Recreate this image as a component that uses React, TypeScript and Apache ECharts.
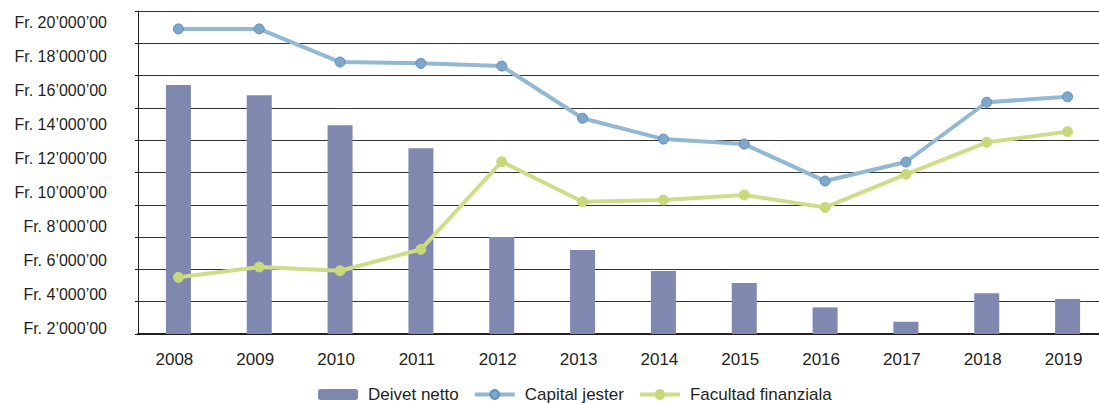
import React, { useEffect, useRef } from "react";
import * as echarts from "echarts";

const years = ["2008", "2009", "2010", "2011", "2012", "2013", "2014", "2015", "2016", "2017", "2018", "2019"];
const deivetNetto = [15420000, 14780000, 12920000, 11500000, 6010000, 5200000, 3900000, 3160000, 1650000, 760000, 2520000, 2170000];
const capitalJester = [18890000, 18890000, 16840000, 16760000, 16590000, 13360000, 12070000, 11760000, 9470000, 10650000, 14350000, 14690000];
const facultadFinanziala = [3510000, 4150000, 3920000, 5240000, 10670000, 8190000, 8300000, 8610000, 7840000, 9890000, 11870000, 12530000];
const yLabelValues = [2000000, 4000000, 6000000, 8000000, 10000000, 12000000, 14000000, 16000000, 18000000, 20000000];

const FONT = "Liberation Sans";
const TXT = "#231f20";

export default function App() {
  const ref = useRef<HTMLDivElement>(null);
  useEffect(() => {
    if (!ref.current) return;
    const chart = echarts.init(ref.current, null, { renderer: "svg" });
    chart.setOption({
      animation: false,
      grid: { left: 138, width: 970, top: 11, bottom: 69, containLabel: false, outerBoundsMode: "none" },
      legend: {
        left: 313,
        top: 381,
        itemWidth: 40,
        itemHeight: 11,
        itemGap: 14,
        lineStyle: { width: 4 },
        textStyle: { fontFamily: FONT, fontSize: 17, color: TXT, padding: [0, 0, 0, 5] },
        data: ["Deivet netto", "Capital jester", "Facultad finanziala"],
      },
      xAxis: {
        type: "category",
        data: years,
        boundaryGap: true,
        axisLine: { show: true, lineStyle: { color: TXT, width: 2 } },
        axisTick: { show: false },
        axisLabel: { fontFamily: FONT, fontSize: 17, color: TXT, margin: 17, padding: [0, 8, 0, 0] },
      },
      yAxis: [
        {
          type: "value",
          min: 0,
          max: 20000000,
          interval: 2000000,
          axisLine: { show: true, lineStyle: { color: TXT, width: 1 } },
          axisTick: { show: true, inside: false, length: 3, lineStyle: { color: TXT } },
          axisLabel: { show: false },
          splitLine: { show: true, lineStyle: { color: "#333333", width: 1 } },
        },
        {
          type: "value",
          position: "left",
          min: 1646000,
          max: 20708000,
          axisLine: { show: false },
          axisTick: { show: false },
          splitLine: { show: false },
          axisLabel: {
            customValues: yLabelValues,
            fontFamily: FONT,
            fontSize: 16,
            color: TXT,
            margin: 31,
            formatter: (v: number) => "Fr. " + Math.round(v / 1000000) + "’000’00",
          },
        },
      ],
      series: [
        {
          name: "Deivet netto",
          type: "bar",
          data: deivetNetto,
          barWidth: 25,
          yAxisIndex: 0,
          itemStyle: { color: "#7f89b0" },
        },
        {
          name: "Capital jester",
          type: "line",
          data: capitalJester,
          yAxisIndex: 0,
          symbol: "circle",
          symbolSize: 10,
          lineStyle: { color: "#93b8d3", width: 4 },
          itemStyle: { color: "#7fa6cb", borderColor: "#5f8fbd", borderWidth: 1 },
        },
        {
          name: "Facultad finanziala",
          type: "line",
          data: facultadFinanziala,
          yAxisIndex: 0,
          symbol: "circle",
          symbolSize: 10,
          lineStyle: { color: "#cfdd8a", width: 4 },
          itemStyle: { color: "#c8d97c", borderColor: "#c8d97c", borderWidth: 1 },
        },
      ],
    });
    return () => chart.dispose();
  }, []);
  return (
    <div
      ref={ref}
      style={{ position: "fixed", left: 0, top: 0, width: 1099, height: 403, background: "#ffffff" }}
    />
  );
}
